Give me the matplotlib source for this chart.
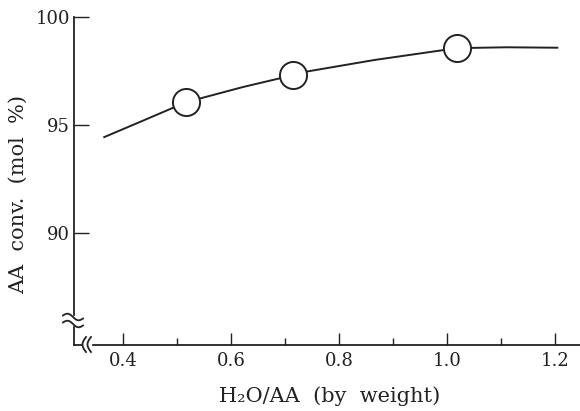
import numpy as np
import matplotlib
matplotlib.use("Agg")
import matplotlib.pyplot as plt

# Data
curve_x = [0.365, 0.431, 0.517, 0.622, 0.715, 0.741, 0.865, 0.993, 1.019, 1.110, 1.204]
curve_y = [94.44, 95.14, 96.06, 96.76, 97.31, 97.48, 98.01, 98.47, 98.56, 98.60, 98.58]
points_x = [0.517, 0.715, 1.019]
points_y = [96.06, 97.31, 98.56]
xticks_major = [0.4, 0.6, 0.8, 1.0, 1.2]
xtick_labels = ["0.4", "0.6", "0.8", "1.0", "1.2"]
xticks_minor = [0.5, 0.7, 0.9, 1.1]
yticks = [90, 95, 100]
ytick_labels = ["90", "95", "100"]

plt.rcParams['font.family'] = ['DejaVu Serif']
W, H = 580, 411
fig = plt.figure(figsize=(5.8, 4.11), dpi=100)
ax_l, ax_b_px = 74, 345
ax = fig.add_axes([ax_l / W, (H - ax_b_px) / H, (W - ax_l) / W, ax_b_px / H])

ax.set_xlim(0.309, 1.246)
ax.set_ylim(84.81, 100.79)

ax.plot(curve_x, curve_y, color='#222222', lw=1.4, zorder=2)
ax.plot(points_x, points_y, 'o', ms=19.5, mfc='white', mec='#222222', mew=1.4, zorder=3)

for s in ax.spines.values():
    s.set_visible(False)

ax.set_xticks(xticks_major)
ax.set_xticklabels(xtick_labels)
ax.set_xticks(xticks_minor, minor=True)
ax.set_yticks(yticks)
ax.set_yticklabels(ytick_labels)
ax.tick_params(axis='x', which='major', direction='in', length=9, width=1.0, pad=5,
               labelsize=13, colors='#222222')
ax.tick_params(axis='x', which='minor', direction='in', length=5, width=1.0, colors='#222222')
ax.tick_params(axis='y', which='major', direction='in', length=11, width=1.0, pad=3,
               labelsize=13, colors='#222222')

def fx(px):
    return (px - ax_l) / (W - ax_l)

def fy(py):
    return (ax_b_px - py) / ax_b_px

tr = ax.transAxes
kw = dict(color='#222222', lw=1.3, transform=tr, clip_on=False)
# y axis with break
y100_px = 17
ax.plot([0, 0], [fy(315), fy(y100_px)], **kw)
ax.plot([0, 0], [fy(327), fy(345)], **kw)
# x axis with break
ax.plot([fx(74), fx(82)], [0, 0], **kw)
ax.plot([fx(93), 1.0], [0, 0], **kw)

# break marks on y axis (wavy)
t = np.linspace(0, 1, 40)
for yc in (317, 324):
    xs = 63 + 20 * t
    ys = yc - 2.5 * np.sin(2 * np.pi * t) + 3 * (t - 0.5)
    ax.plot(fx(xs), fy(ys), **kw)
# break marks on x axis "(("
for xc in (86, 91):
    ys = 337 + 15 * t
    xs = xc - 3.5 * np.sin(np.pi * t)
    ax.plot(fx(xs), fy(ys), **kw)

fig.text(330 / W, 1 - 396 / H, "H\u2082O/AA  (by  weight)", ha='center', va='center',
         fontsize=15, color='#222222')
fig.text(18 / W, 1 - 194 / H, "AA  conv.  (mol  %)", ha='center', va='center',
         rotation=90, fontsize=15, color='#222222')

fig.savefig("out.png", dpi=100)
